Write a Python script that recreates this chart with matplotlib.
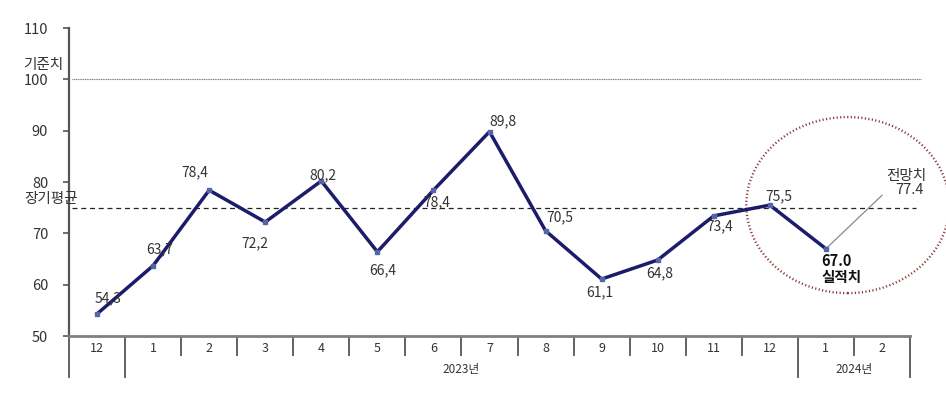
import matplotlib
matplotlib.use("Agg")
import matplotlib.pyplot as plt
from matplotlib.patches import Ellipse
from matplotlib.transforms import blended_transform_factory
import numpy as np

plt.rcParams['font.family'] = ['Noto Sans CJK KR', 'DejaVu Sans']

# ---- data ----
months = ["12", "1", "2", "3", "4", "5", "6", "7", "8", "9", "10", "11", "12", "1", "2"]
values = [54.3, 63.7, 78.4, 72.2, 80.2, 66.4, 78.4, 89.8, 70.5, 61.1, 64.8, 73.4, 75.5, 67.0]
value_labels = ["54,3", "63,7", "78,4", "72,2", "80,2", "66,4", "78,4", "89,8",
                "70,5", "61,1", "64,8", "73,4", "75,5", "67.0"]
forecast_value = 77.4
forecast_label = "77.4"
baseline_value = 100
long_avg_value = 75.0
years = ["2023년", "2024년"]
yticks = [50, 60, 70, 80, 90, 100, 110]

W, H = 946, 398
fig = plt.figure(figsize=(W / 100, H / 100), dpi=100)
ax = fig.add_axes([69 / W, (H - 336) / H, (910 - 69) / W, 308 / H])

x = np.arange(len(values))
line_color = "#1c1c6b"
ax.plot(x, values, color=line_color, lw=2.5, zorder=4, solid_joinstyle='round')
ax.plot(x, values, ls='none', marker='s', ms=3.5, mfc="#5566a8", mec="#5566a8", zorder=5)

# forecast connector
ax.plot([x[-1], len(values)], [values[-1], forecast_value], color="#8a8a8a", lw=0.9,
        zorder=3, clip_on=False)

# reference lines
ax.plot([-0.45, 14.7], [baseline_value] * 2, color="#7a7a7a", lw=0.8, ls=(0, (1, 0.6)),
        clip_on=False, zorder=2)
ax.plot([-0.45, 14.6], [long_avg_value] * 2, color="#222222", lw=0.9, ls=(0, (4, 3)),
        clip_on=False, zorder=2)

ax.set_xlim(-0.5, len(months) - 0.5)
ax.set_ylim(50, 110)
ax.set_yticks(yticks)
ax.set_yticklabels([str(v) for v in yticks], fontsize=10.5, color="#333333")
ax.tick_params(axis='y', direction='out', length=4, width=1.2, color="#555555", pad=11)
ax.set_xticks([])
for s in ['top', 'right']:
    ax.spines[s].set_visible(False)
ax.spines['left'].set_color("#555555")
ax.spines['left'].set_linewidth(1.6)
ax.spines['bottom'].set_color("#808080")
ax.spines['bottom'].set_linewidth(2.0)

# value labels (pixel offsets)
offsets = [(11, -16), (7, -16), (-14, -18), (-10, 21), (2, -6), (5, 18), (3, 12),
           (13, -10), (14, -13), (-2, 13), (2, 13), (6, 10), (9, -9)]
for i, (lab, off) in enumerate(zip(value_labels[:-1], offsets)):
    ax.annotate(lab, (x[i], values[i]), xytext=(off[0], -off[1]), textcoords='offset pixels',
                ha='center', va='center', fontsize=10, color="#333333", zorder=6)
# actual value (bold)
ax.annotate(value_labels[-1], (x[-1], values[-1]), xytext=(11, -12), textcoords='offset pixels',
            ha='center', va='center', fontsize=10.5, fontweight='bold', color="#111111", zorder=6)
ax.annotate("실적치", (x[-1], values[-1]), xytext=(16, -28), textcoords='offset pixels',
            ha='center', va='center', fontsize=10.5, fontweight='bold', color="#111111", zorder=6)
# forecast labels
ax.annotate(forecast_label, (len(values), forecast_value), xytext=(28, 5), textcoords='offset pixels',
            ha='center', va='center', fontsize=10.5, color="#333333", annotation_clip=False)
ax.annotate("전망치", (len(values), forecast_value), xytext=(24, 19), textcoords='offset pixels',
            ha='center', va='center', fontsize=10.5, color="#333333", annotation_clip=False)

# highlight ellipse
ell = Ellipse((13.39, 75.5), 3.62, 34.3, fill=False, ec="#8b3a3a", lw=1.7,
              ls=(0, (0.5, 1.0)), clip_on=False, zorder=3)
ax.add_patch(ell)

# category axis separators and labels
tr = blended_transform_factory(ax.transData, ax.transAxes)
short_len = 19 / 308
long_len = 41 / 308
long_pos = {0, 1, 13, 15}
for k in range(len(months) + 1):
    ln = long_len if k in long_pos else short_len
    ax.plot([k - 0.5, k - 0.5], [0, -ln], transform=tr, color="#555555", lw=1.3, clip_on=False)
for i, m in enumerate(months):
    ax.text(i, -12 / 308, m, transform=tr, ha='center', va='center', fontsize=9, color="#333333")
ax.text(6.5, -34 / 308, years[0], transform=tr, ha='center', va='center', fontsize=8.5, color="#333333")
ax.text(13.5, -34 / 308, years[1], transform=tr, ha='center', va='center', fontsize=8.5, color="#333333")

# y-axis reference labels
fig.text(43 / W, 1 - 65 / H, "기준치", ha='center', va='center', fontsize=10.5, color="#333333")
fig.text(51 / W, 1 - 199 / H, "장기평균", ha='center', va='center', fontsize=10.5, color="#333333")

fig.savefig("out.png", dpi=100)
